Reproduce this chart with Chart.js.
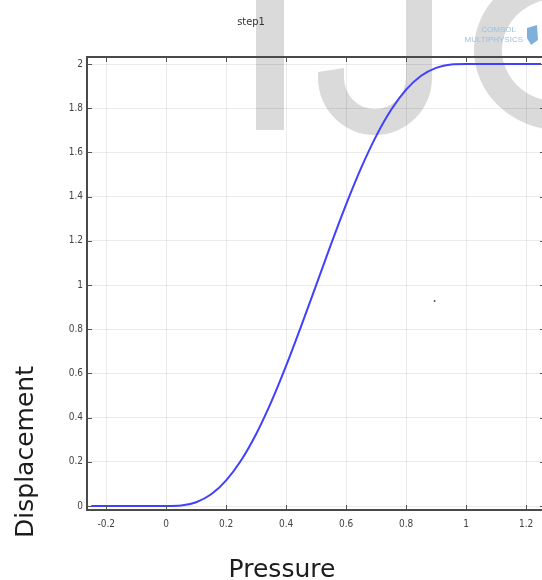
<!DOCTYPE html>
<html>
<head>
<meta charset="utf-8">
<script src="https://cdn.jsdelivr.net/npm/chart.js@4.4.1/dist/chart.umd.min.js"></script>
<style>
html,body{margin:0;padding:0;background:#fff;overflow:hidden;}
canvas{display:block;}
</style>
</head>
<body>
<canvas id="c" width="560" height="580"></canvas>
<script>
// ---- data ----
const pressure = [-0.25,-0.2,-0.15,-0.1,-0.05,0,0.05,0.1,0.15,0.2,0.25,0.3,0.35,0.4,0.45,0.5,0.55,0.6,0.65,0.7,0.75,0.8,0.85,0.9,0.95,1.0,1.05,1.1,1.15,1.2,1.25];
const displacement = [0,0,0,0,0,0,0.002,0.017,0.053,0.116,0.207,0.326,0.470,0.635,0.814,1.0,1.186,1.365,1.530,1.674,1.793,1.884,1.947,1.983,1.998,2,2,2,2,2,2];
const speckX = [0.895];
const speckY = [0.928];
const xTicks = [-0.2,0,0.2,0.4,0.6,0.8,1,1.2];
const yTicks = [0,0.2,0.4,0.6,0.8,1,1.2,1.4,1.6,1.8,2];
const titleText = 'step1';
const xTitle = 'Pressure';
const yTitle = 'Displacement';
const logoLines = ['COMSOL','MULTIPHYSICS'];

const fmt = v => String(+(+v).toFixed(2));
const tickFont = {family:'"Liberation Sans Narrow","DejaVu Sans Condensed","Liberation Sans",sans-serif', size:10};

const deco = {
  id:'deco',
  beforeDraw(chart){
    const ctx = chart.ctx;
    ctx.save();
    ctx.fillStyle = '#dadada';
    // watermark "I"
    ctx.fillRect(256, -5, 28, 135);
    // "J" stem + bowl
    ctx.fillRect(406, -5, 26, 84);
    ctx.beginPath();
    ctx.arc(375, 78, 57, 0, Math.PI, false);
    ctx.arc(375, 78, 31, Math.PI, 0, true);
    ctx.closePath();
    ctx.fill();
    ctx.beginPath();
    ctx.moveTo(318, 79); ctx.lineTo(318, 72); ctx.lineTo(344, 68); ctx.lineTo(344, 79);
    ctx.closePath(); ctx.fill();
    // "S" (partly visible)
    ctx.strokeStyle = '#dadada';
    ctx.lineWidth = 28;
    ctx.beginPath();
    ctx.ellipse(560, 50, 72, 66, 0, Math.PI*1.6, Math.PI*0.45, true);
    ctx.stroke();
    ctx.restore();
  },
  afterDraw(chart){
    const ctx = chart.ctx;
    const a = chart.chartArea;
    const xs = chart.scales.x, ys = chart.scales.y;
    ctx.save();
    // inward tick marks
    ctx.strokeStyle = '#555';
    ctx.lineWidth = 1;
    ctx.beginPath();
    xTicks.forEach(v => {
      const px = Math.round(xs.getPixelForValue(v)) + 0.5;
      ctx.moveTo(px, a.bottom); ctx.lineTo(px, a.bottom - 5);
      ctx.moveTo(px, a.top); ctx.lineTo(px, a.top + 5);
    });
    yTicks.forEach(v => {
      const py = Math.round(ys.getPixelForValue(v)) + 0.5;
      ctx.moveTo(a.left, py); ctx.lineTo(a.left + 5, py);
      ctx.moveTo(a.right, py); ctx.lineTo(a.right - 5, py);
    });
    ctx.stroke();
    // frame
    ctx.strokeStyle = '#4a4a4a';
    ctx.lineWidth = 2;
    ctx.strokeRect(a.left, a.top, a.right - a.left, a.bottom - a.top);
    // title
    ctx.fillStyle = '#333';
    ctx.font = '11px "Liberation Sans Narrow","DejaVu Sans Condensed",sans-serif';
    ctx.textAlign = 'center';
    ctx.textBaseline = 'middle';
    ctx.fillText(titleText, 251, 22);
    // logo
    ctx.fillStyle = '#9cc0e0';
    ctx.font = '8px "Liberation Sans",sans-serif';
    ctx.textAlign = 'right';
    ctx.fillText(logoLines[0], 516, 30);
    ctx.fillText(logoLines[1], 523, 40);
    ctx.fillStyle = '#7fb0da';
    ctx.beginPath();
    ctx.moveTo(527, 28); ctx.lineTo(537, 25); ctx.lineTo(538, 40); ctx.lineTo(531, 45); ctx.lineTo(527, 38);
    ctx.closePath(); ctx.fill();
    // axis titles
    ctx.fillStyle = '#1c1c1c';
    ctx.font = '25px "DejaVu Sans",sans-serif';
    ctx.textAlign = 'center';
    ctx.textBaseline = 'alphabetic';
    ctx.fillText(xTitle, 282, 577);
    ctx.translate(33, 452);
    ctx.rotate(-Math.PI/2);
    ctx.fillText(yTitle, 0, 0);
    ctx.restore();
  }
};

new Chart(document.getElementById('c'), {
  type:'line',
  data:{
    datasets:[
      {
        data: pressure.map((p,i)=>({x:p, y:displacement[i]})),
        borderColor:'#4040ff',
        borderWidth:2,
        pointRadius:0,
        cubicInterpolationMode:'monotone',
        fill:false
      },
      {
        data: speckX.map((p,i)=>({x:p, y:speckY[i]})),
        showLine:false,
        pointRadius:1,
        pointBorderWidth:0,
        pointBackgroundColor:'#555'
      }
    ]
  },
  options:{
    responsive:false,
    animation:false,
    layout:{padding:{left:0, right:15, top:57, bottom:50}},
    plugins:{legend:{display:false}, title:{display:false}, tooltip:{enabled:false}},
    scales:{
      x:{
        type:'linear', min:-0.264, max:1.263,
        afterBuildTicks: s => { s.ticks = xTicks.map(v=>({value:v})); },
        afterFit: s => { s.height = 20; },
        grid:{color:'rgba(0,0,0,0.08)', drawTicks:false},
        border:{display:false},
        ticks:{font:tickFont, color:'#444', padding:8, maxRotation:0, autoSkip:false, callback: v => fmt(v)}
      },
      y:{
        type:'linear', min:-0.018, max:2.032,
        afterBuildTicks: s => { s.ticks = yTicks.map(v=>({value:v})); },
        afterFit: s => { s.width = 87; },
        grid:{color:'rgba(0,0,0,0.08)', drawTicks:false},
        border:{display:false},
        ticks:{font:tickFont, color:'#444', padding:4, autoSkip:false, callback: v => fmt(v)}
      }
    }
  },
  plugins:[deco]
});
</script>
</body>
</html>
